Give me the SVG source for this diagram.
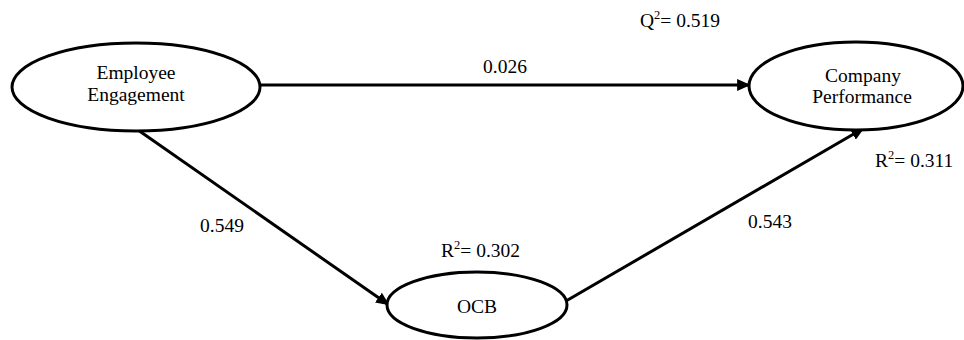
<svg xmlns="http://www.w3.org/2000/svg" width="964" height="340" viewBox="0 0 964 340">
  <style>
    .node { fill: #ffffff; stroke: #000000; stroke-width: 3; }
    .edge { stroke: #000000; stroke-width: 3; fill: none; marker-end: url(#arrow); }
    text { font-family: "Liberation Serif", "Times New Roman", serif; font-size: 19.5px; fill: #000000; }
    .c { text-anchor: middle; }
    .sup { font-size: 12.5px; }
  </style>
  <defs>
    <marker id="arrow" markerWidth="4.5" markerHeight="4" refX="4.3" refY="2" orient="auto" markerUnits="strokeWidth">
      <path d="M0,0 L4.5,2 L0,4 Z" fill="#000000"/>
    </marker>
  </defs>
  <rect width="964" height="340" fill="#ffffff"/>

  <g id="connectors">
    <line class="edge" x1="261" y1="85" x2="750" y2="85"/>
    <line class="edge" x1="138" y1="130" x2="389" y2="305"/>
    <line class="edge" x1="566" y1="301" x2="864" y2="128"/>
  </g>

  <g id="edge-labels">
    <text class="c" x="505" y="73">0.026</text>
    <text class="c" x="222" y="232">0.549</text>
    <text class="c" x="770" y="228">0.543</text>
  </g>

  <g id="employee-engagement">
    <ellipse class="node" cx="136" cy="87" rx="124" ry="44"/>
    <text class="c" x="136" y="79">Employee</text>
    <text class="c" x="136" y="101">Engagement</text>
  </g>

  <g id="company-performance">
    <ellipse class="node" cx="856" cy="86" rx="107" ry="44"/>
    <text class="c" x="863" y="82">Company</text>
    <text class="c" x="862" y="103">Performance</text>
  </g>

  <g id="ocb">
    <ellipse class="node" cx="477" cy="305" rx="90" ry="33"/>
    <text class="c" x="477" y="313">OCB</text>
  </g>

  <g id="fit-labels">
    <text x="640" y="27">Q<tspan class="sup" dy="-8">2</tspan><tspan dy="8">= 0.519</tspan></text>
    <text x="441" y="257">R<tspan class="sup" dy="-8">2</tspan><tspan dy="8">= 0.302</tspan></text>
    <text x="875" y="167">R<tspan class="sup" dy="-8">2</tspan><tspan dy="8">= 0.311</tspan></text>
  </g>
</svg>
